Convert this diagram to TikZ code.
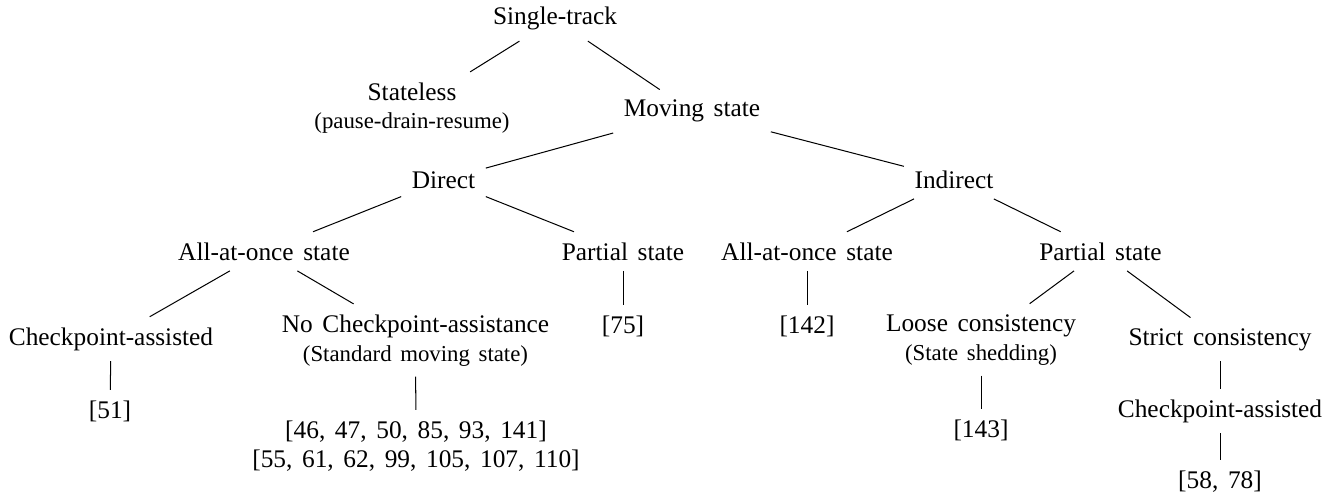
\documentclass[tikz,border=0pt]{standalone}
\usepackage{fontspec}
\setmainfont{Liberation Serif}
\newcommand\treefont{\fontsize{10pt}{11.4pt}\selectfont\spaceskip 3.8pt\relax}
\newcommand\notefont{\fontsize{9pt}{11.4pt}\selectfont\spaceskip 3.4pt\relax}
\begin{document}
\begin{tikzpicture}[x=0.3944pt,y=-0.3944pt,
  lbl/.style={inner xsep=4pt, inner ysep=4pt, anchor=base, align=center,
    font=\treefont},
  link/.style={draw=black, line width=0.4pt}]
\useasboundingbox (0,0) rectangle (1336,497);

% taxonomy nodes, placed by the baseline of their last line
\node[lbl] (root)  at (555,25)   {Single-track};
\node[lbl] (sless) at (412,129)  {Stateless\\\notefont(pause-drain-resume)};
\node[lbl] (move)  at (692,117)  {Moving state};
\node[lbl] (dir)   at (443.5,188) {Direct};
\node[lbl] (indir) at (954,188)  {Indirect};
\node[lbl] (dall)  at (264,260)  {All-at-once state};
\node[lbl] (dpart) at (623,260)  {Partial state};
\node[lbl] (iall)  at (807,260)  {All-at-once state};
\node[lbl] (ipart) at (1100.5,260) {Partial state};
\node[lbl] (dcp)   at (111,345)  {Checkpoint-assisted};
\node[lbl] (dnocp) at (415.5,361) {No Checkpoint-assistance\\\notefont(Standard moving state)};
\node[lbl] (r75)   at (623,333)  {[75]};
\node[lbl] (r142)  at (807,333)  {[142]};
\node[lbl] (loose) at (981,360)  {Loose consistency\\\notefont(State shedding)};
\node[lbl] (strict) at (1220,345) {Strict consistency};
\node[lbl] (r51)   at (110,418)  {[51]};
\node[lbl] (rstd)  at (416,467)  {[46, 47, 50, 85, 93, 141]\\{}[55, 61, 62, 99, 105, 107, 110]};
\node[lbl] (r143)  at (981,437)  {[143]};
\node[lbl] (scp)   at (1220,417) {Checkpoint-assisted};
\node[lbl] (r5878) at (1220,488) {[58, 78]};

% tree edges
\draw[link] (root) -- (sless);
\draw[link] (root) -- (move);
\draw[link] (move) -- (dir);
\draw[link] (move) -- (indir);
\draw[link] (dir) -- (dall);
\draw[link] (dir) -- (dpart);
\draw[link] (indir) -- (iall);
\draw[link] (indir) -- (ipart);
\draw[link] (dall) -- (dcp);
\draw[link] (dall) -- (dnocp);
\draw[link] (dpart) -- (r75);
\draw[link] (iall) -- (r142);
\draw[link] (ipart) -- (loose);
\draw[link] (ipart) -- (strict);
\draw[link] (dcp) -- (r51);
\draw[link] (dnocp) -- (rstd);
\draw[link] (loose) -- (r143);
\draw[link] (strict) -- (scp);
\draw[link] (scp) -- (r5878);
\end{tikzpicture}
\end{document}
